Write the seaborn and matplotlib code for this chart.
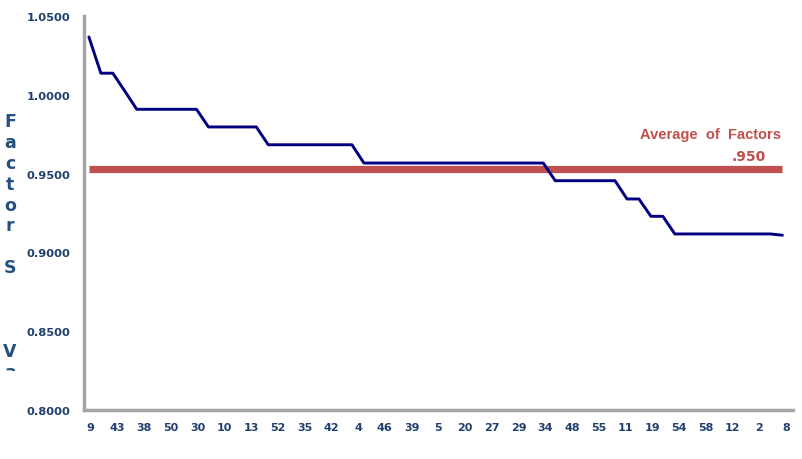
import numpy as np
import pandas as pd
import matplotlib
matplotlib.use("Agg")
import matplotlib.pyplot as plt
import matplotlib.transforms as mtransforms
import seaborn as sns

# ---------------- data ----------------
factor_values = [
    1.0367, 1.0137, 1.0137, 1.0024,
    0.9908, 0.9908, 0.9908, 0.9908, 0.9908, 0.9908,
    0.9796, 0.9796, 0.9796, 0.9796, 0.9796,
    0.9683, 0.9683, 0.9683, 0.9683, 0.9683, 0.9683, 0.9683, 0.9683,
    0.9567, 0.9567, 0.9567, 0.9567, 0.9567, 0.9567, 0.9567, 0.9567,
    0.9567, 0.9567, 0.9567, 0.9567, 0.9567, 0.9567, 0.9567, 0.9567,
    0.9455, 0.9455, 0.9455, 0.9455, 0.9455, 0.9455,
    0.9339, 0.9339,
    0.9229, 0.9229,
    0.9117, 0.9117, 0.9117, 0.9117, 0.9117, 0.9117, 0.9117, 0.9117, 0.9117,
    0.9109,
]
category_labels = ["9", "43", "38", "50", "30", "10", "13", "52", "35", "42",
                   "4", "46", "39", "5", "20", "27", "29", "34", "48", "55",
                   "11", "19", "54", "58", "12", "2", "8"]
average_value = 0.9532
average_label = ".950"
average_title = "Average  of  Factors"
y_ticks = [0.80, 0.85, 0.90, 0.95, 1.00, 1.05]
ylabel_text = "Factor S   Va"

# ---------------- style ----------------
NAVY = "#000080"
RED = "#C0504D"
TXT = "#1F3F6E"
GRAY = "#A6A6A6"

sns.set_style("white")
plt.rcParams["font.family"] = ["DejaVu Sans"]

fig = plt.figure(figsize=(8.02, 4.60), dpi=100)
ax = fig.add_axes([84 / 802, 49 / 460, 708.7 / 802, 394 / 460])

n = len(factor_values)
df = pd.DataFrame({"idx": np.arange(n), "value": factor_values,
                   "avg": [average_value] * n})

sns.lineplot(data=df, x="idx", y="avg", ax=ax, color=RED, linewidth=5.2,
             solid_capstyle="butt", zorder=2)
sns.lineplot(data=df, x="idx", y="value", ax=ax, color=NAVY, linewidth=2.1,
             zorder=3)

# category axis layout
label_pos = np.linspace(0.15, n - 0.7, len(category_labels))
cat_w = (label_pos[1] - label_pos[0]) / 2.0
ax.set_xlim(label_pos[0] - cat_w / 2, label_pos[-1] + cat_w / 2)
ax.set_xticks(label_pos)
ax.set_xticklabels(category_labels)
minor = np.arange(label_pos[0] - cat_w / 2, label_pos[-1] + cat_w, cat_w)
ax.set_xticks(minor, minor=True)
ax.tick_params(axis="x", which="major", length=0, pad=9, labelsize=8,
               labelcolor=TXT)
ax.tick_params(axis="x", which="minor", length=3, width=1.5, color=GRAY,
               direction="out")

ax.set_ylim(0.80, 1.05)
ax.set_yticks(y_ticks)
ax.set_yticklabels([f"{v:.4f}" for v in y_ticks])
ax.tick_params(axis="y", length=4, width=1.5, color=GRAY, direction="out",
               pad=6, labelsize=8.2, labelcolor=TXT)
for lab in ax.get_xticklabels() + ax.get_yticklabels():
    lab.set_fontweight("bold")

ax.set_xlabel("")
ax.set_ylabel("")
for s in ["top", "right"]:
    ax.spines[s].set_visible(False)
for s in ["left", "bottom"]:
    ax.spines[s].set_color(GRAY)
    ax.spines[s].set_linewidth(2.5)
ax.grid(False)

# average annotation
ax.annotate(average_title, xy=(781 / 802, 1 - 139 / 460), xycoords="figure fraction",
            ha="right", va="baseline", color=RED, fontsize=10.5,
            fontweight="bold", family=["Liberation Sans", "DejaVu Sans"])
ax.annotate(average_label, xy=(766 / 802, 1 - 160.7 / 460), xycoords="figure fraction",
            ha="right", va="baseline", color=RED, fontsize=10,
            fontweight="bold")

# stacked vertical y label, clipped at the bottom
clip = mtransforms.Bbox.from_extents(0, 460 - 372, 60, 460)
for i, ch in enumerate(ylabel_text):
    if ch == " ":
        continue
    t = fig.text(10 / 802, 1 - (122 + 20.9 * i) / 460, ch, ha="center",
                 va="center", fontsize=12.5, fontweight="bold", color="#24507F")
    t.set_clip_box(clip)
    t.set_clip_on(True)

fig.savefig("out.png", dpi=100)
